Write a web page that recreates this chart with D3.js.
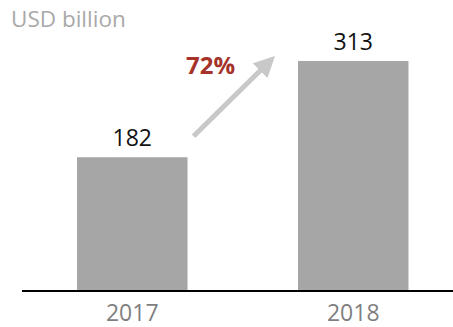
<!DOCTYPE html>
<html>
<head>
<meta charset="utf-8">
<script src="https://cdn.jsdelivr.net/npm/d3@7/dist/d3.min.js"></script>
<style>
  html, body { margin: 0; padding: 0; background: #fff; }
  svg { display: block; }
  text { font-family: "Open Sans", "Noto Sans", sans-serif; }
</style>
</head>
<body>
<svg id="chart" width="453" height="327"></svg>
<script>
// Annual value, USD billion
const years = ["2017", "2018"];
const values = [182, 313];
const unitLabel = "USD billion";

const svg = d3.select("#chart");
const baseline = 291;

const x = d3.scaleBand()
  .domain(years)
  .range([22, 463.5])
  .paddingInner(0.5)
  .paddingOuter(0.249);

const y = d3.scaleLinear()
  .domain([0, 396])
  .range([baseline, 0]);

// Bars
svg.append("g")
  .selectAll("rect")
  .data(years)
  .join("rect")
  .attr("x", d => x(d))
  .attr("y", (d, i) => y(values[i]))
  .attr("width", x.bandwidth())
  .attr("height", (d, i) => baseline - y(values[i]))
  .attr("fill", "#a6a6a6");

// Value labels above bars
svg.append("g")
  .selectAll("text")
  .data(years)
  .join("text")
  .attr("x", d => x(d) + x.bandwidth() / 2)
  .attr("y", (d, i) => y(values[i]) - 11)
  .attr("text-anchor", "middle")
  .attr("font-size", 23)
  .attr("fill", "#111")
  .text((d, i) => values[i]);

// Baseline axis
const axis = svg.append("g")
  .attr("transform", `translate(0,${baseline})`)
  .call(d3.axisBottom(x).tickSize(0).tickPadding(14));
axis.select(".domain")
  .attr("d", `M22,0H453`)
  .attr("stroke", "#000")
  .attr("stroke-width", 2);
axis.selectAll(".tick text")
  .attr("font-family", "'Open Sans', 'Noto Sans', sans-serif")
  .attr("font-size", 23)
  .attr("fill", "#7f7f7f");

// Unit label
svg.append("text")
  .attr("x", 11)
  .attr("y", 27)
  .attr("font-size", 22.5)
  .attr("fill", "#a9a9a9")
  .text(unitLabel);

// Growth arrow
const defs = svg.append("defs");
defs.append("marker")
  .attr("id", "head")
  .attr("viewBox", "0 0 10 10")
  .attr("refX", 8)
  .attr("refY", 5)
  .attr("markerUnits", "userSpaceOnUse")
  .attr("markerWidth", 21)
  .attr("markerHeight", 21)
  .attr("orient", "auto")
  .append("path")
  .attr("d", "M0,0L10,5L0,10Z")
  .attr("fill", "#c8c8c8");

const x0 = x(years[0]) + x.bandwidth() + 6;
const y0 = y(values[0]) - 21;
const x1 = x(years[1]) - 22;
const y1 = y(values[1]) - 6;
svg.append("line")
  .attr("x1", x0).attr("y1", y0)
  .attr("x2", x1 - 4).attr("y2", y1 + 4)
  .attr("stroke", "#c8c8c8")
  .attr("stroke-width", 5)
  .attr("marker-end", "url(#head)");

// Growth label
const growth = values[1] / values[0] - 1;
svg.append("text")
  .attr("x", 186)
  .attr("y", 74)
  .attr("font-size", 24)
  .attr("font-weight", "bold")
  .attr("fill", "#a5332a")
  .text(d3.format(".0%")(growth));
</script>
</body>
</html>
